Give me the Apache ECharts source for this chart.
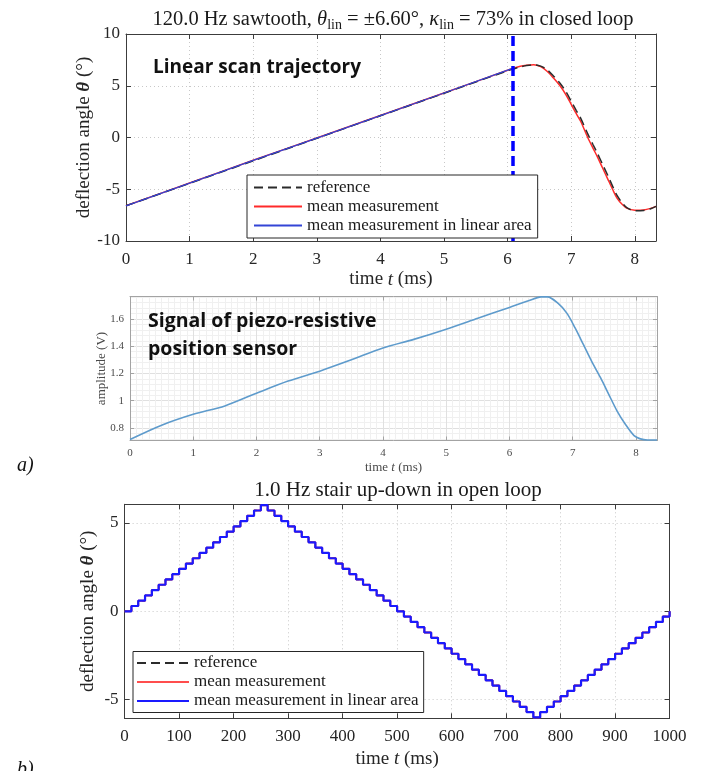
<!DOCTYPE html>
<html>
<head>
<meta charset="utf-8">
<title>scan trajectories</title>
<script src="https://cdn.jsdelivr.net/npm/echarts@6.0.0/dist/echarts.min.js"></script>
<style>
html, body { margin: 0; padding: 0; background: #fff; }
#page { position: relative; width: 703px; height: 771px; overflow: hidden; }
.chartsBox { position: absolute; left: 0; width: 703px; }
#chart1 { top: 0; height: 290px; }
#chart2 { top: 285px; height: 195px; }
#chart3 { top: 470px; height: 301px; }
</style>
</head>
<body>
<div id="page">
  <div id="chart1" class="chartsBox"></div>
  <div id="chart2" class="chartsBox"></div>
  <div id="chart3" class="chartsBox"></div>
</div>
<script>
// a) 120 Hz sawtooth in closed loop, time in ms, angle in deg
const sawTime        = [0, 1, 2, 3, 4, 5, 6, 6.08, 6.2, 6.3, 6.41, 6.52, 6.62, 6.72, 6.83, 6.92, 7.0, 7.08, 7.15, 7.26, 7.34, 7.41, 7.49, 7.57, 7.65, 7.72, 7.8, 7.88, 8.0, 8.14, 8.25, 8.333]
const sawReference   = [-6.6, -4.43, -2.25, -0.08, 2.1, 4.27, 6.45, 6.6, 6.82, 6.95, 7.02, 6.9, 6.55, 5.95, 5.2, 4.4, 3.5, 2.6, 1.85, 0.35, -0.65, -1.5, -2.55, -3.6, -4.7, -5.6, -6.3, -6.8, -7.08, -7.05, -6.88, -6.66]
const sawMeasurement = [-6.6, -4.4, -2.2, -0.05, 2.12, 4.3, 6.5, 6.68, 6.88, 6.98, 7.04, 6.85, 6.4, 5.75, 4.95, 4.1, 3.2, 2.3, 1.55, 0.0, -1.0, -1.85, -2.9, -3.95, -5.0, -5.85, -6.45, -6.85, -7.02, -7.0, -6.85, -6.66]
const linTime        = [0, 1, 2, 3, 4, 5, 6, 6.08]
const linMeasurement = [-6.6, -4.4, -2.2, -0.05, 2.12, 4.3, 6.5, 6.68]
const linLimit = 6.08 // end of linear area (73 % of 8.33 ms)

// piezo-resistive sensor signal, time in ms, amplitude in V
const sensorTime = [0, 0.5, 1, 1.5, 2, 2.5, 3, 3.5, 4, 4.5, 5, 5.5, 6, 6.3, 6.5, 6.6, 6.77, 6.91, 7.04, 7.17, 7.3, 7.44, 7.57, 7.7, 7.83, 7.97, 8.07, 8.18, 8.333]
const sensorAmp  = [0.715, 0.82, 0.9, 0.962, 1.055, 1.144, 1.217, 1.3, 1.387, 1.452, 1.525, 1.605, 1.685, 1.733, 1.762, 1.762, 1.714, 1.641, 1.532, 1.411, 1.289, 1.169, 1.047, 0.926, 0.829, 0.744, 0.72, 0.712, 0.712]

// b) 1 Hz stair up-down in open loop, time in ms, angle in deg
const stairTime = [0, 12.5, 25, 37.5, 50, 62.5, 75, 87.5, 100, 112.5, 125, 137.5, 150, 162.5, 175, 187.5, 200, 212.5, 225, 237.5,
  250, 262.5, 275, 287.5, 300, 312.5, 325, 337.5, 350, 362.5, 375, 387.5, 400, 412.5, 425, 437.5, 450, 462.5, 475, 487.5,
  500, 512.5, 525, 537.5, 550, 562.5, 575, 587.5, 600, 612.5, 625, 637.5, 650, 662.5, 675, 687.5, 700, 712.5, 725, 737.5,
  750, 762.5, 775, 787.5, 800, 812.5, 825, 837.5, 850, 862.5, 875, 887.5, 900, 912.5, 925, 937.5, 950, 962.5, 975, 987.5, 1000]
const stairAngle = [0, 0.3, 0.6, 0.9, 1.2, 1.5, 1.8, 2.1, 2.4, 2.7, 3.0, 3.3, 3.6, 3.9, 4.2, 4.5, 4.8, 5.1, 5.4, 5.7,
  6.0, 5.7, 5.4, 5.1, 4.8, 4.5, 4.2, 3.9, 3.6, 3.3, 3.0, 2.7, 2.4, 2.1, 1.8, 1.5, 1.2, 0.9, 0.6, 0.3,
  0, -0.3, -0.6, -0.9, -1.2, -1.5, -1.8, -2.1, -2.4, -2.7, -3.0, -3.3, -3.6, -3.9, -4.2, -4.5, -4.8, -5.1, -5.4, -5.7,
  -6.0, -5.7, -5.4, -5.1, -4.8, -4.5, -4.2, -3.9, -3.6, -3.3, -3.0, -2.7, -2.4, -2.1, -1.8, -1.5, -1.2, -0.9, -0.6, -0.3, 0]

const legendNames = ['reference', 'mean measurement', 'mean measurement in linear area']

const SERIF = '"Liberation Serif", "DejaVu Serif", serif'
const SANS = '"Open Sans", Lato, sans-serif'

const pairs = (xs, ys) => xs.map((x, i) => [x, ys[i]])
// only label the "nice" ticks, not the axis ends
const keepTicks = step => v => (Math.abs(v / step - Math.round(v / step)) < 1e-6 ? String(+v.toFixed(2)) : '')

// matlab style box: labelled axes bottom/left, plain ones top/right
const frameAxes = (x, y, s) => {
  const axisLine = { show: true, onZero: false, lineStyle: { color: s.frame, width: 1 } }
  const axisTick = { show: true, inside: true, length: s.tickLen, lineStyle: { color: s.frame } }
  const nameTextStyle = {
    fontFamily: SERIF, fontSize: s.nameSize, color: s.text,
    rich: {
      it: { fontFamily: SERIF, fontSize: s.nameSize, color: s.text, fontStyle: 'italic' },
      bi: { fontFamily: SERIF, fontSize: s.nameSize, color: s.text, fontStyle: 'italic', fontWeight: 'bold' }
    }
  }
  const one = (a, pos, main) => ({
    type: 'value', position: pos, min: a.min, max: a.max, interval: a.interval, splitNumber: a.splitNumber,
    axisLine, axisTick,
    axisLabel: main
      ? { fontFamily: SERIF, fontSize: s.labelSize, color: s.text, margin: a.margin, formatter: keepTicks(a.step) }
      : { show: false },
    splitLine: { show: main, lineStyle: s.split },
    minorTick: { show: false, splitNumber: a.minor || 5 },
    minorSplitLine: { show: main && !!a.minor, lineStyle: s.minorSplit },
    name: main ? a.name : '', nameLocation: 'middle', nameGap: a.nameGap, nameMoveOverlap: false, nameTextStyle
  })
  return {
    xAxis: [one(x, 'bottom', true), one(x, 'top', false)],
    yAxis: [one(y, 'left', true), one(y, 'right', false)]
  }
}

const lineSeries = (name, data, color, width, dash, z, extra) => Object.assign({
  name, type: 'line', data, symbol: 'none', z,
  lineStyle: { color, width, type: dash || 'solid' },
  itemStyle: { color },
  emphasis: { disabled: true }
}, extra)

const legendBox = (left, top, itemWidth, padding) => ({
  orient: 'vertical', left, top, padding, itemGap: 2, itemWidth, itemHeight: 14, z: 20,
  backgroundColor: '#fff', borderColor: '#262626', borderWidth: 1, borderRadius: 0,
  selectedMode: false,
  itemStyle: { opacity: 0 },
  textStyle: { fontFamily: SERIF, fontSize: 17, color: '#1a1a1a' },
  data: legendNames
})

const matlab = {
  frame: '#3c3c3c', text: '#262626', tickLen: 5, labelSize: 17, nameSize: 19,
  split: { color: '#c8c8c8', type: [1, 3], width: 1 }
}

const initChart1 = () => {
  const chart = echarts.init(document.getElementById('chart1'))
  chart.setOption({
    animation: false,
    grid: { left: 126, top: 34, width: 530, height: 207, outerBoundsMode: 'none' },
    ...frameAxes(
      { min: 0, max: 8.333, interval: 1, step: 1, margin: 10, name: 'time {it|t} (ms)', nameGap: 29 },
      { min: -10, max: 10, interval: 5, step: 5, margin: 6, name: 'deflection angle {bi|θ} (°)', nameGap: 32 },
      matlab
    ),
    legend: legendBox(247, 175, 48, [4, 6, 4, 6]),
    series: [
      lineSeries('mean measurement', pairs(sawTime, sawMeasurement), '#ff2a2a', 1.5, null, 2, { smooth: 0.3 }),
      lineSeries('reference', pairs(sawTime, sawReference), '#2b2b2b', 1.5, [9, 5], 3, { smooth: 0.3 }),
      lineSeries('mean measurement in linear area', pairs(linTime, linMeasurement), '#3345d6', 1.3, null, 4, {
        markLine: {
          silent: true, symbol: ['none', 'none'], label: { show: false },
          lineStyle: { color: '#0000ff', width: 3.5, type: [10, 5] },
          data: [{ xAxis: linLimit }]
        }
      })
    ],
    graphic: [
      {
        type: 'text', x: 393, y: 20, z: 100,
        style: {
          text: '120.0 Hz sawtooth, {it|θ}{sub|lin} = ±6.60°, {it|κ}{sub|lin} = 73% in closed loop',
          fontFamily: SERIF, fontSize: 20.5, fill: '#1a1a1a', textAlign: 'center', textVerticalAlign: 'middle',
          rich: {
            it: { fontFamily: SERIF, fontSize: 20.5, fontStyle: 'italic', fill: '#1a1a1a' },
            sub: { fontFamily: SERIF, fontSize: 14, fill: '#1a1a1a', padding: [10, 0, 0, 0] }
          }
        }
      },
      {
        type: 'text', x: 153, y: 68, z: 100,
        style: { text: 'Linear scan trajectory', fontFamily: SANS, fontWeight: 'bold', fontSize: 19, fill: '#111', textVerticalAlign: 'middle' }
      }
    ]
  })
}

const initChart2 = () => {
  const chart = echarts.init(document.getElementById('chart2'))
  chart.setOption({
    animation: false,
    grid: { left: 130, top: 11.5, width: 527, height: 144, outerBoundsMode: 'none' },
    ...frameAxes(
      { min: 0, max: 8.333, interval: 1, step: 1, margin: 7, minor: 10, name: 'time {it|t} (ms)', nameGap: 21 },
      { min: 0.708, max: 1.765, splitNumber: 5, step: 0.2, margin: 6, minor: 5, name: 'amplitude (V)', nameGap: 22 },
      {
        frame: '#a3a3a3', text: '#4a4a4a', tickLen: 4, labelSize: 11, nameSize: 13,
        split: { color: '#e0e0e0', width: 1 },
        minorSplit: { color: '#f0f0f0', width: 1 }
      }
    ),
    series: [
      lineSeries('sensor', pairs(sensorTime, sensorAmp), '#5e9bcc', 1.6, null, 2, { smooth: 0.3 })
    ],
    graphic: [
      {
        type: 'text', x: 148, y: 22, z: 100,
        style: {
          text: 'Signal of piezo-resistive\nposition sensor', fontFamily: SANS, fontWeight: 'bold', fontSize: 19.5,
          lineHeight: 28, fill: '#111', textVerticalAlign: 'top'
        }
      },
      {
        type: 'text', x: 17, y: 181, z: 100,
        style: { text: 'a)', fontFamily: SERIF, fontStyle: 'italic', fontSize: 20, fill: '#111', textVerticalAlign: 'middle' }
      }
    ]
  })
}

const initChart3 = () => {
  const chart = echarts.init(document.getElementById('chart3'))
  chart.setOption({
    animation: false,
    grid: { left: 124.6, top: 34.3, width: 545, height: 214, outerBoundsMode: 'none' },
    ...frameAxes(
      { min: 0, max: 1000, interval: 100, step: 100, margin: 10, name: 'time {it|t} (ms)', nameGap: 31 },
      { min: -6.05, max: 6.05, splitNumber: 2, step: 5, margin: 6, name: 'deflection angle {bi|θ} (°)', nameGap: 27 },
      matlab
    ),
    legend: legendBox(133, 181.5, 52, [3, 5, 3, 3]),
    series: [
      lineSeries('reference', pairs(stairTime, stairAngle), '#2b2b2b', 1.5, [9, 5], 2, { step: 'end' }),
      lineSeries('mean measurement', pairs(stairTime, stairAngle), '#ff4d4d', 2, null, 3, { step: 'end' }),
      lineSeries('mean measurement in linear area', pairs(stairTime, stairAngle), '#1a1aff', 2.2, null, 4, { step: 'end' })
    ],
    graphic: [
      {
        type: 'text', x: 398, y: 20, z: 100,
        style: { text: '1.0 Hz stair up-down in open loop', fontFamily: SERIF, fontSize: 21, fill: '#1a1a1a', textAlign: 'center', textVerticalAlign: 'middle' }
      },
      {
        type: 'text', x: 17, y: 300, z: 100,
        style: { text: 'b)', fontFamily: SERIF, fontStyle: 'italic', fontSize: 20, fill: '#111', textVerticalAlign: 'middle' }
      }
    ]
  })
}

initChart1()
initChart2()
initChart3()
</script>
</body>
</html>
